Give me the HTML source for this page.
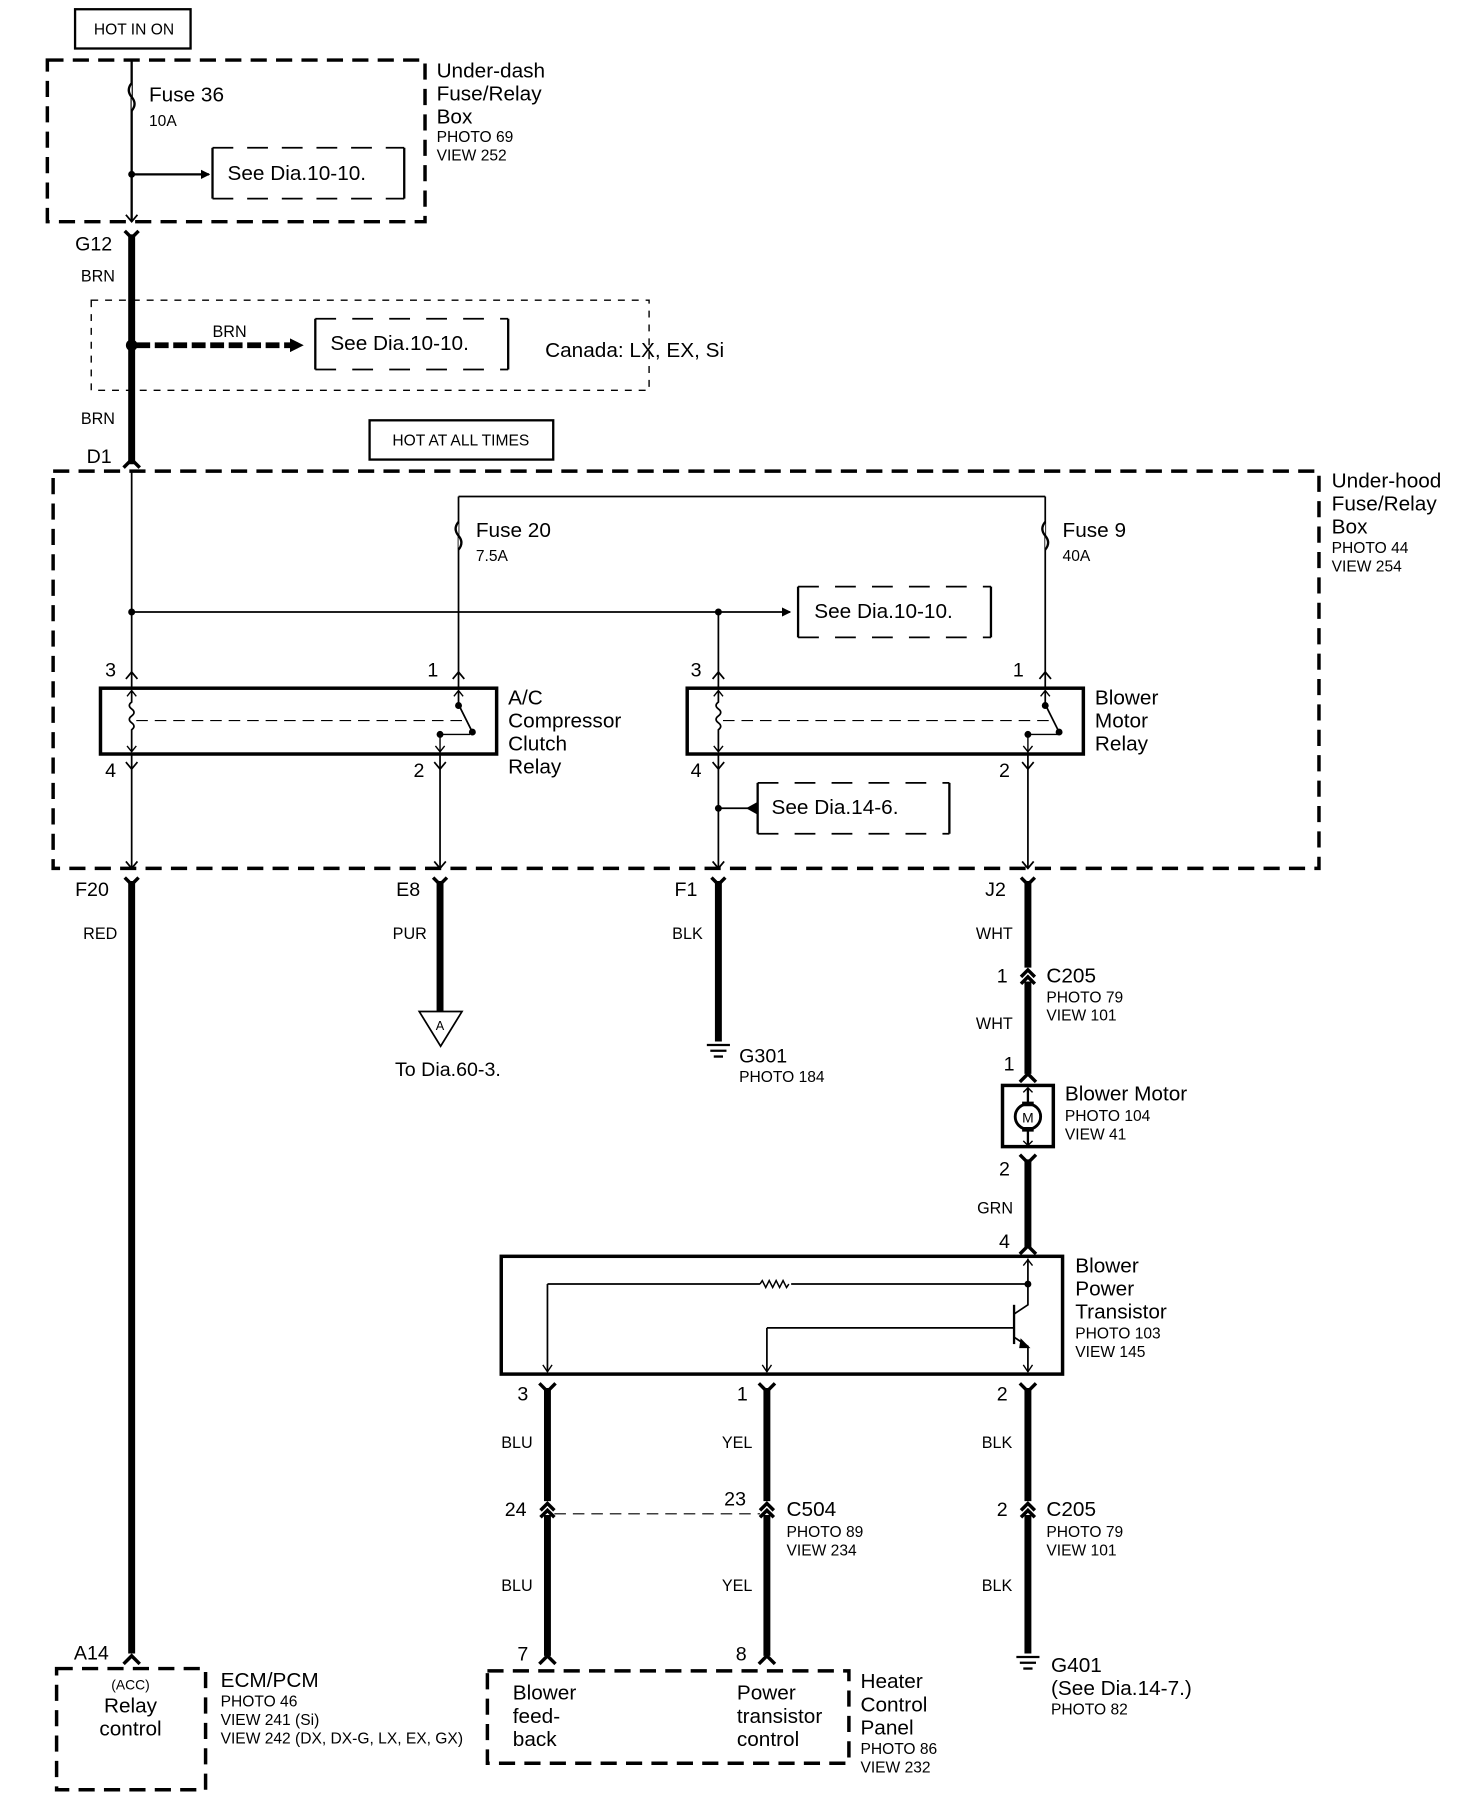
<!DOCTYPE html>
<html><head><meta charset="utf-8"><style>
html,body{margin:0;padding:0;background:#fff;}
svg{display:block;}
text{font-family:"Liberation Sans",sans-serif;fill:#000;}
.l{font-size:18px;}
.s{font-size:13.5px;}
.w{font-size:14px;}
.p{font-size:17px;}
</style></head><body>
<svg width="1472" height="1810" viewBox="0 0 1274.5 1567.5" preserveAspectRatio="none" xmlns="http://www.w3.org/2000/svg">
<defs>
<marker id="ar" markerWidth="8" markerHeight="8" refX="7" refY="4" orient="auto" markerUnits="userSpaceOnUse"><path d="M0,0 L8,4 L0,8 z" fill="#000"/></marker>
<marker id="ar2" markerWidth="12" markerHeight="12" refX="11" refY="6" orient="auto" markerUnits="userSpaceOnUse"><path d="M0,0 L12,6 L0,12 z" fill="#000"/></marker>
</defs>
<g fill="none" stroke="#000">
<rect x="65" y="8" width="100" height="34" stroke-width="2"/>
<rect x="41" y="52" width="327" height="140" stroke-width="3" stroke-dasharray="14,8"/>
<line x1="114" y1="52" x2="114" y2="192" stroke-width="2"/>
<path d="M114,72 q-5,6 0,12 q5,6 0,12" stroke-width="2" fill="#fff"/>
<line x1="114" y1="151" x2="181" y2="151" stroke-width="2" marker-end="url(#ar)"/>
<path d="M184,128 v44" stroke-width="2"/>
<path d="M350,128 v44" stroke-width="2"/>
<path d="M184,128 h166 M184,172 h166" stroke-width="1.5" stroke-dasharray="18,12"/>
<path d="M109,186 l5,6 l5,-6" stroke-width="1.5"/>
<path d="M108,200 l6,6 l6,-6" stroke-width="3"/>
<line x1="114" y1="203" x2="114" y2="402" stroke-width="6"/>
<rect x="79" y="260" width="483" height="78" stroke-width="1.2" stroke-dasharray="6,6"/>
<line x1="118" y1="299" x2="262" y2="299" stroke-width="5" stroke-dasharray="12,4" marker-end="url(#ar2)"/>
<path d="M273,276 v44 M440,276 v44" stroke-width="2"/>
<path d="M273,276 h167 M273,320 h167" stroke-width="1.5" stroke-dasharray="18,14"/>
<path d="M107,405 l7,-7 l7,7" stroke-width="3"/>
<rect x="320" y="364" width="159" height="34" stroke-width="2"/>
<rect x="46" y="408" width="1096" height="344" stroke-width="3" stroke-dasharray="14,8"/>
<line x1="114" y1="408" x2="114" y2="596" stroke-width="1.5"/>
<line x1="397" y1="430" x2="397" y2="596" stroke-width="1.5"/>
<line x1="397" y1="430" x2="905" y2="430" stroke-width="1.5"/>
<line x1="905" y1="430" x2="905" y2="596" stroke-width="1.5"/>
<path d="M397,452 q-5,6 0,12 q5,6 0,12" stroke-width="2" fill="#fff"/>
<path d="M905,452 q-5,6 0,12 q5,6 0,12" stroke-width="2" fill="#fff"/>
<line x1="114" y1="530" x2="684" y2="530" stroke-width="1.5" marker-end="url(#ar)"/>
<line x1="622" y1="530" x2="622" y2="596" stroke-width="1.5"/>
<path d="M691,508 v44 M858,508 v44" stroke-width="2"/>
<path d="M691,508 h167 M691,552 h167" stroke-width="1.5" stroke-dasharray="18,14"/>
<path d="M109,588 l5,-6 l5,6 M392,588 l5,-6 l5,6 M617,588 l5,-6 l5,6 M900,588 l5,-6 l5,6" stroke-width="1.5"/>
<path d="M109,660 l5,6 l5,-6 M376,660 l5,6 l5,-6 M617,660 l5,6 l5,-6 M885,660 l5,6 l5,-6" stroke-width="1.5"/>
<rect x="87" y="596" width="343" height="57" stroke-width="3"/>
<rect x="595" y="596" width="343" height="57" stroke-width="3"/>
<path d="M114,598 v10 q-4,3 0,6 q4,3 0,6 q-4,3 0,6 q4,3 0,6 v18" stroke-width="1.5"/>
<path d="M110,603 l4,-5 l4,5 M110,646 l4,5 l4,-5" stroke-width="1.2"/>
<line x1="118" y1="624" x2="402" y2="624" stroke-width="1" stroke-dasharray="10,6"/>
<path d="M397,598 v12 l12,24" stroke-width="1.5"/>
<path d="M381,638 v14 M381,636 h26" stroke-width="1.2"/>
<circle cx="397" cy="611" r="2.5" fill="#000"/><circle cx="409" cy="634" r="2.5" fill="#000"/><circle cx="381" cy="636" r="2.5" fill="#000"/>
<path d="M393,603 l4,-5 l4,5 M377,646 l4,5 l4,-5" stroke-width="1.2"/>
<path d="M622,598 v10 q-4,3 0,6 q4,3 0,6 q-4,3 0,6 q4,3 0,6 v18" stroke-width="1.5"/>
<path d="M618,603 l4,-5 l4,5 M618,646 l4,5 l4,-5" stroke-width="1.2"/>
<line x1="626" y1="624" x2="910" y2="624" stroke-width="1" stroke-dasharray="10,6"/>
<path d="M905,598 v12 l12,24" stroke-width="1.5"/>
<path d="M890,638 v14 M890,636 h26" stroke-width="1.2"/>
<circle cx="905" cy="611" r="2.5" fill="#000"/><circle cx="917" cy="634" r="2.5" fill="#000"/><circle cx="890" cy="636" r="2.5" fill="#000"/>
<path d="M901,603 l4,-5 l4,5 M886,646 l4,5 l4,-5" stroke-width="1.2"/>
<line x1="114" y1="653" x2="114" y2="752" stroke-width="1.5"/>
<line x1="381" y1="653" x2="381" y2="752" stroke-width="1.5"/>
<line x1="622" y1="653" x2="622" y2="752" stroke-width="1.5"/>
<line x1="890" y1="653" x2="890" y2="752" stroke-width="1.5"/>
<path d="M109,746 l5,6 l5,-6 M376,746 l5,6 l5,-6 M617,746 l5,6 l5,-6 M885,746 l5,6 l5,-6" stroke-width="1.5"/>
<line x1="622" y1="700" x2="650" y2="700" stroke-width="1.5"/>
<path d="M647,700 l9,-5 v10 z" fill="#000" stroke-width="1"/>
<path d="M656,678 v44 M822,678 v44" stroke-width="2"/>
<path d="M656,678 h166 M656,722 h166" stroke-width="1.5" stroke-dasharray="18,14"/>
<path d="M108,760 l6,6 l6,-6 M375,760 l6,6 l6,-6 M616,760 l6,6 l6,-6 M884,760 l6,6 l6,-6" stroke-width="3"/>
<line x1="114" y1="763" x2="114" y2="1432" stroke-width="6"/>
<line x1="381" y1="763" x2="381" y2="877" stroke-width="6"/>
<path d="M363,876 h37 l-18.5,30 z" stroke-width="1.5" fill="#fff"/>
<line x1="622" y1="763" x2="622" y2="902" stroke-width="6"/>
<line x1="890" y1="763" x2="890" y2="838" stroke-width="6"/>
<path d="M884,846 l6,-6 l6,6 M884,852 l6,-6 l6,6" stroke-width="3"/>
<line x1="890" y1="850" x2="890" y2="930" stroke-width="6"/>
<path d="M883,937 l7,-7 l7,7" stroke-width="3"/>
<rect x="868" y="940" width="44" height="53" stroke-width="3"/>
<circle cx="890" cy="967" r="11" stroke-width="2.5"/>
<path d="M890,942 v14 M890,978 v13" stroke-width="2"/>
<path d="M885,956 h10 M885,978 h10" stroke-width="4"/>
<path d="M886,946 l4,-4 l4,4 M886,988 l4,4 l4,-4" stroke-width="1.2"/>
<path d="M883,1000 l7,7 l7,-7" stroke-width="3"/>
<line x1="890" y1="1004" x2="890" y2="1080" stroke-width="6"/>
<path d="M883,1086 l7,-7 l7,7" stroke-width="3"/>
<rect x="434" y="1088" width="486" height="102" stroke-width="3"/>
<path d="M890,1090 v40 l-12,8" stroke-width="1.5"/>
<path d="M886,1096 l4,-5 l4,5" stroke-width="1.2"/>
<line x1="474" y1="1112" x2="658" y2="1112" stroke-width="1.5"/>
<path d="M658,1112 l2,-3 l3,6 l3,-6 l3,6 l3,-6 l3,6 l3,-6 l3,6 l2,-3" stroke-width="1.3"/>
<line x1="685" y1="1112" x2="890" y2="1112" stroke-width="1.5"/>
<circle cx="890" cy="1112" r="2.5" fill="#000"/>
<line x1="474" y1="1112" x2="474" y2="1188" stroke-width="1.5"/>
<path d="M470,1182 l4,6 l4,-6" stroke-width="1.2"/>
<line x1="878" y1="1130" x2="878" y2="1164" stroke-width="2"/>
<line x1="664" y1="1150" x2="878" y2="1150" stroke-width="1.5"/>
<line x1="664" y1="1150" x2="664" y2="1188" stroke-width="1.5"/>
<path d="M660,1182 l4,6 l4,-6" stroke-width="1.2"/>
<path d="M878,1158 l12,8 v22" stroke-width="1.5"/>
<path d="M884,1160 l7,7 l-8,0 z" fill="#000" stroke-width="1"/>
<path d="M886,1182 l4,6 l4,-6" stroke-width="1.2"/>
<path d="M467,1198 l7,7 l7,-7 M657,1198 l7,7 l7,-7 M883,1198 l7,7 l7,-7" stroke-width="3"/>
<line x1="474" y1="1202" x2="474" y2="1300" stroke-width="6"/>
<line x1="664" y1="1202" x2="664" y2="1300" stroke-width="6"/>
<line x1="890" y1="1202" x2="890" y2="1300" stroke-width="6"/>
<path d="M468,1308 l6,-6 l6,6 M468,1314 l6,-6 l6,6 M658,1308 l6,-6 l6,6 M658,1314 l6,-6 l6,6 M884,1308 l6,-6 l6,6 M884,1314 l6,-6 l6,6" stroke-width="3"/>
<line x1="480" y1="1311" x2="658" y2="1311" stroke-width="1" stroke-dasharray="10,6"/>
<line x1="474" y1="1312" x2="474" y2="1434" stroke-width="6"/>
<line x1="664" y1="1312" x2="664" y2="1434" stroke-width="6"/>
<line x1="890" y1="1312" x2="890" y2="1432" stroke-width="6"/>
<path d="M467,1441 l7,-7 l7,7 M657,1441 l7,-7 l7,7 M107,1441 l7,-7 l7,7" stroke-width="3"/>
<rect x="422" y="1447" width="313" height="80" stroke-width="3" stroke-dasharray="14,8"/>
<rect x="49" y="1445" width="129" height="105" stroke-width="3" stroke-dasharray="14,8"/>
</g>
<circle cx="114" cy="151" r="3" fill="#000"/>
<circle cx="114" cy="299" r="5" fill="#000"/>
<circle cx="114" cy="530" r="3" fill="#000"/>
<circle cx="622" cy="530" r="3" fill="#000"/>
<circle cx="622" cy="700" r="3" fill="#000"/>
<g stroke="#000" stroke-width="2">
<line x1="612" y1="905" x2="632" y2="905"/><line x1="615" y1="910" x2="629" y2="910"/><line x1="618" y1="915" x2="626" y2="915"/>
<line x1="880" y1="1435" x2="900" y2="1435"/><line x1="883" y1="1440" x2="897" y2="1440"/><line x1="886" y1="1445" x2="894" y2="1445"/>
</g>
<text x="116" y="30" class="s" text-anchor="middle">HOT IN ON</text>
<text x="129" y="88" class="l">Fuse 36</text>
<text x="129" y="109" class="s">10A</text>
<text x="197" y="156" class="l">See Dia.10-10.</text>
<text x="378" y="67" class="l">Under-dash</text>
<text x="378" y="87" class="l">Fuse/Relay</text>
<text x="378" y="107" class="l">Box</text>
<text x="378" y="123" class="s">PHOTO 69</text>
<text x="378" y="139" class="s">VIEW 252</text>
<text x="65" y="217" class="p">G12</text>
<text x="70" y="244" class="w">BRN</text>
<text x="184" y="292" class="w">BRN</text>
<text x="286" y="303" class="l">See Dia.10-10.</text>
<text x="472" y="309" class="l">Canada: LX, EX, Si</text>
<text x="70" y="367" class="w">BRN</text>
<text x="75" y="401" class="p">D1</text>
<text x="399" y="386" class="s" text-anchor="middle">HOT AT ALL TIMES</text>
<text x="1153" y="422" class="l">Under-hood</text>
<text x="1153" y="442" class="l">Fuse/Relay</text>
<text x="1153" y="462" class="l">Box</text>
<text x="1153" y="479" class="s">PHOTO 44</text>
<text x="1153" y="495" class="s">VIEW 254</text>
<text x="412" y="465" class="l">Fuse 20</text>
<text x="412" y="486" class="s">7.5A</text>
<text x="920" y="465" class="l">Fuse 9</text>
<text x="920" y="486" class="s">40A</text>
<text x="705" y="535" class="l">See Dia.10-10.</text>
<text x="91" y="586" class="p">3</text>
<text x="370" y="586" class="p">1</text>
<text x="598" y="586" class="p">3</text>
<text x="877" y="586" class="p">1</text>
<text x="91" y="673" class="p">4</text>
<text x="358" y="673" class="p">2</text>
<text x="598" y="673" class="p">4</text>
<text x="865" y="673" class="p">2</text>
<text x="440" y="610" class="l">A/C</text>
<text x="440" y="630" class="l">Compressor</text>
<text x="440" y="650" class="l">Clutch</text>
<text x="440" y="670" class="l">Relay</text>
<text x="948" y="610" class="l">Blower</text>
<text x="948" y="630" class="l">Motor</text>
<text x="948" y="650" class="l">Relay</text>
<text x="668" y="705" class="l">See Dia.14-6.</text>
<text x="65" y="776" class="p">F20</text>
<text x="343" y="776" class="p">E8</text>
<text x="584" y="776" class="p">F1</text>
<text x="853" y="776" class="p">J2</text>
<text x="72" y="813" class="w">RED</text>
<text x="340" y="813" class="w">PUR</text>
<text x="582" y="813" class="w">BLK</text>
<text x="845" y="813" class="w">WHT</text>
<text x="381" y="892" font-size="11" text-anchor="middle">A</text>
<text x="342" y="932" class="p">To Dia.60-3.</text>
<text x="640" y="920" class="p">G301</text>
<text x="640" y="937" class="s">PHOTO 184</text>
<text x="863" y="851" class="p">1</text>
<text x="906" y="851" class="l">C205</text>
<text x="906" y="868" class="s">PHOTO 79</text>
<text x="906" y="884" class="s">VIEW 101</text>
<text x="845" y="891" class="w">WHT</text>
<text x="869" y="927" class="p">1</text>
<text x="890" y="972" font-size="12" text-anchor="middle">M</text>
<text x="922" y="953" class="l">Blower Motor</text>
<text x="922" y="971" class="s">PHOTO 104</text>
<text x="922" y="987" class="s">VIEW 41</text>
<text x="865" y="1018" class="p">2</text>
<text x="846" y="1051" class="w">GRN</text>
<text x="865" y="1081" class="p">4</text>
<text x="931" y="1102" class="l">Blower</text>
<text x="931" y="1122" class="l">Power</text>
<text x="931" y="1142" class="l">Transistor</text>
<text x="931" y="1159" class="s">PHOTO 103</text>
<text x="931" y="1175" class="s">VIEW 145</text>
<text x="448" y="1213" class="p">3</text>
<text x="638" y="1213" class="p">1</text>
<text x="863" y="1213" class="p">2</text>
<text x="434" y="1254" class="w">BLU</text>
<text x="625" y="1254" class="w">YEL</text>
<text x="850" y="1254" class="w">BLK</text>
<text x="437" y="1313" class="p">24</text>
<text x="627" y="1304" class="p">23</text>
<text x="681" y="1313" class="l">C504</text>
<text x="681" y="1331" class="s">PHOTO 89</text>
<text x="681" y="1347" class="s">VIEW 234</text>
<text x="863" y="1313" class="p">2</text>
<text x="906" y="1313" class="l">C205</text>
<text x="906" y="1331" class="s">PHOTO 79</text>
<text x="906" y="1347" class="s">VIEW 101</text>
<text x="434" y="1378" class="w">BLU</text>
<text x="625" y="1378" class="w">YEL</text>
<text x="850" y="1378" class="w">BLK</text>
<text x="64" y="1437" class="p">A14</text>
<text x="448" y="1438" class="p">7</text>
<text x="637" y="1438" class="p">8</text>
<text x="113" y="1463" font-size="12" text-anchor="middle">(ACC)</text>
<text x="113" y="1483" class="l" text-anchor="middle">Relay</text>
<text x="113" y="1503" class="l" text-anchor="middle">control</text>
<text x="191" y="1461" class="l">ECM/PCM</text>
<text x="191" y="1478" class="s">PHOTO 46</text>
<text x="191" y="1494" class="s">VIEW 241 (Si)</text>
<text x="191" y="1510" class="s">VIEW 242 (DX, DX-G, LX, EX, GX)</text>
<text x="444" y="1472" class="l">Blower</text>
<text x="444" y="1492" class="l">feed-</text>
<text x="444" y="1512" class="l">back</text>
<text x="638" y="1472" class="l">Power</text>
<text x="638" y="1492" class="l">transistor</text>
<text x="638" y="1512" class="l">control</text>
<text x="745" y="1462" class="l">Heater</text>
<text x="745" y="1482" class="l">Control</text>
<text x="745" y="1502" class="l">Panel</text>
<text x="745" y="1519" class="s">PHOTO 86</text>
<text x="745" y="1535" class="s">VIEW 232</text>
<text x="910" y="1448" class="l">G401</text>
<text x="910" y="1468" class="l">(See Dia.14-7.)</text>
<text x="910" y="1485" class="s">PHOTO 82</text>
</svg>
</body></html>
